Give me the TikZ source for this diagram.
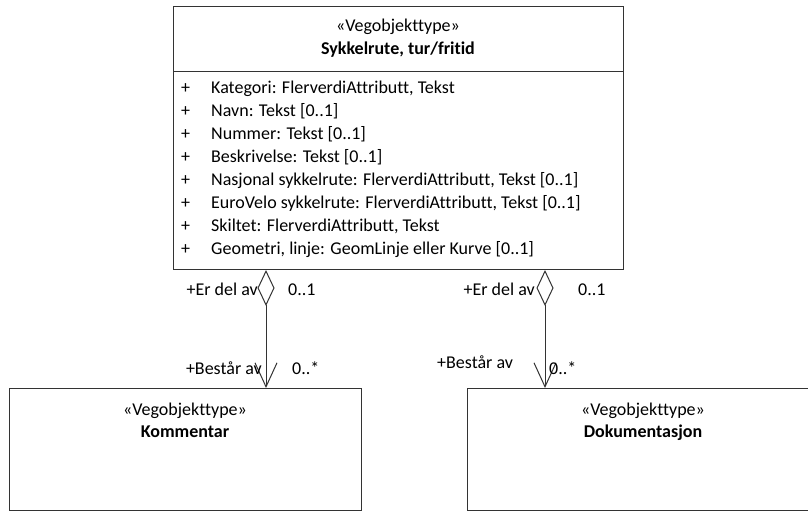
\documentclass[tikz,border=0pt]{standalone}
\usepackage{fontspec}
\setmainfont{Carlito}[Ligatures=NoCommon]
\usetikzlibrary{arrows.meta}
\begin{document}
\begin{tikzpicture}[x=1pt,y=-1pt,
  every node/.style={font=\fontsize{18}{22}\selectfont, inner sep=0pt, text height=12pt, text depth=4pt},
  bold/.style={font=\fontsize{18}{22}\selectfont\bfseries},
  umlbox/.style={draw=black!80, line width=1pt, anchor=north west, text height=, text depth=},
  assoc/.style={draw=black!80, line width=1pt,
     {Diamond[open,length=36pt,width=17pt]}-{Straight Barb[length=24pt,width=22pt]}}]
\useasboundingbox (0,0) rectangle (808,511);
% top class
\node[umlbox, minimum width=450pt, minimum height=65pt] (top) at (173,6) {};
\node[umlbox, minimum width=450pt, minimum height=198pt] (attrs) at (173,71) {};
\node (st1) at (398,28) {«Vegobjekttype»};
\node[bold] (nm1) at (398,51) {Sykkelrute, tur/fritid};
\foreach \i/\t in {0/{Kategori: FlerverdiAttributt, Tekst},
                   1/{Navn: Tekst [0..1]},
                   2/{Nummer: Tekst [0..1]},
                   3/{Beskrivelse: Tekst [0..1]},
                   4/{Nasjonal sykkelrute: FlerverdiAttributt, Tekst [0..1]},
                   5/{EuroVelo sykkelrute: FlerverdiAttributt, Tekst [0..1]},
                   6/{Skiltet: FlerverdiAttributt, Tekst},
                   7/{Geometri, linje: GeomLinje eller Kurve [0..1]}} {
  \node[anchor=west] (p\i) at (181,89+23*\i) {+};
  \node[anchor=west] (a\i) at (211,89+23*\i) {\t};
}
% bottom classes
\node[umlbox, minimum width=352pt, minimum height=122pt] (kom) at (9,388) {};
\node (st2) at (185,411) {«Vegobjekttype»};
\node[bold] (nm2) at (185,433) {Kommentar};
\node[umlbox, minimum width=352pt, minimum height=122pt] (dok) at (467,388) {};
\node (st3) at (643,411) {«Vegobjekttype»};
\node[bold] (nm3) at (643,433) {Dokumentasjon};
% associations
\coordinate (c1) at (266,300);
\coordinate (c2) at (545,300);
\draw[assoc] (attrs.south -| c1) -- (kom.north -| c1);
\draw[assoc] (attrs.south -| c2) -- (dok.north -| c2);
% role labels
\node[anchor=east] (r1) at (258,291) {+Er del av};
\node[anchor=west] (m1) at (288,291) {0..1};
\node[anchor=east] (r2) at (262,370) {+Består av};
\node[anchor=west] (m2) at (292,370) {0..*};
\node[anchor=east] (r3) at (535,291) {+Er del av};
\node[anchor=west] (m3) at (578,291) {0..1};
\node[anchor=west] (r4) at (437,364) {+Består av};
\node[anchor=west] (m4) at (549,370) {0..*};
\end{tikzpicture}
\end{document}
